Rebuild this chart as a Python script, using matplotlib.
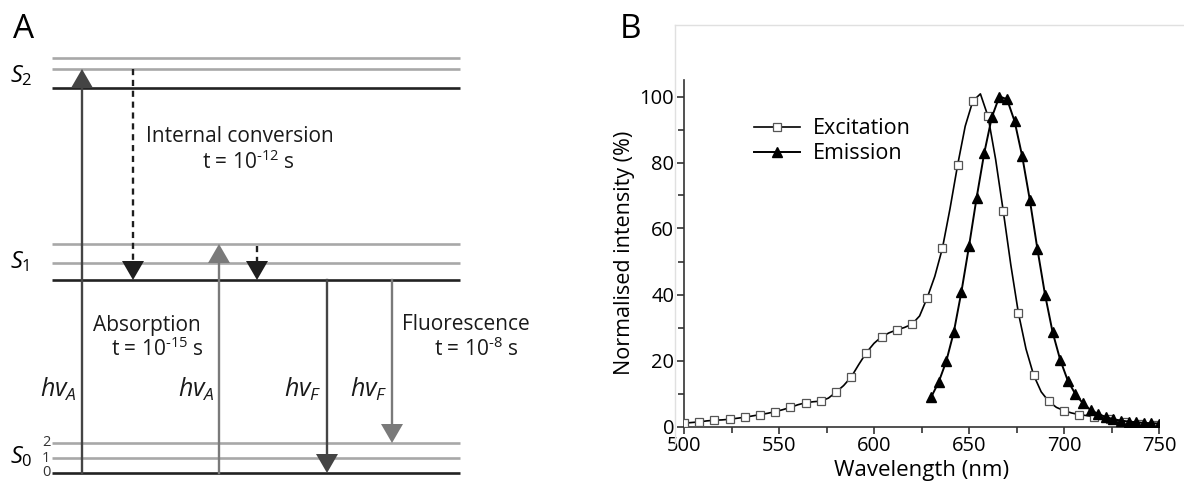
import numpy as np
import matplotlib.pyplot as plt
from matplotlib.patches import Polygon
from matplotlib.lines import Line2D

plt.rcParams['font.family'] = 'Open Sans'
plt.rcParams['mathtext.fontset'] = 'custom'
plt.rcParams['mathtext.rm'] = 'Open Sans'
plt.rcParams['mathtext.it'] = 'Open Sans:italic'

# spectra (B)
exc_wl = np.arange(500, 752, 4)
exc_val = [1.0, 1.2, 1.4, 1.7, 1.9, 2.0, 2.2, 2.5, 2.8, 3.2,
           3.6, 4.0, 4.5, 5.1, 5.8, 6.6, 7.2, 7.5, 7.7, 8.6,
           10.4, 12.4, 15.0, 18.8, 22.4, 25.2, 27.2, 28.4, 29.3, 30.0,
           31.0, 33.5, 39.0, 45.5, 54.0, 66.0, 79.2, 91.0, 98.6, 100.8,
           94.0, 81.0, 65.4, 49.0, 34.4, 23.5, 15.6, 10.5, 7.6, 5.8,
           4.8, 4.1, 3.6, 3.3, 3.0, 2.6, 2.2, 1.8, 1.4, 1.1,
           0.9, 0.7, 0.5]
em_wl = np.arange(630, 754, 4)
em_val = [8.8, 13.4, 19.7, 28.6, 40.8, 54.6, 69.3, 82.8, 93.7, 100.0,
          99.2, 92.5, 81.9, 68.7, 53.8, 40.0, 28.6, 20.2, 13.9, 9.8,
          7.0, 5.0, 3.8, 2.9, 2.2, 1.8, 1.5, 1.3, 1.1, 1.0, 0.9]

# Jablonski diagram (A), drawn in pixel-like units
level_x = (52, 460)
s2_levels = [88, 69, 58]
s1_levels = [280, 263, 244]
s0_levels = [473, 458, 443]
# x, start, end, colour, dashed
transitions = [
    (82, 473, 69, '#444444', False),
    (219, 473, 244, '#7a7a7a', False),
    (327, 280, 473, '#444444', False),
    (392, 280, 443, '#7a7a7a', False),
    (133, 69, 280, '#1e1e1e', True),
    (257, 246, 280, '#1e1e1e', True),
]

fig = plt.figure(figsize=(11.84, 4.93), dpi=100)

axA = fig.add_axes([0, 0, 0.5, 1])
axA.set_xlim(0, 592)
axA.set_ylim(493, 0)
axA.axis('off')

for levels in (s2_levels, s1_levels, s0_levels):
    for i, y in enumerate(levels):
        c = '#222222' if i == 0 else '#a8a8a8'
        axA.plot(level_x, [y, y], color=c, lw=1.9, solid_capstyle='butt', zorder=1)

head_w, head_l = 11, 19
for x, y0, y1, c, dashed in transitions:
    d = 1 if y1 > y0 else -1
    yb = y1 - d * head_l
    axA.plot([x, x], [y0, yb], color=c, lw=1.7,
             ls=(0, (2.6, 2.0)) if dashed else '-', zorder=2)
    axA.add_patch(Polygon([[x - head_w, yb], [x + head_w, yb], [x, y1]],
                          closed=True, color=c, lw=0, zorder=3))

axA.text(13, 38, 'A', fontsize=24, va='baseline')
axA.text(10, 82, '$S_2$', fontsize=17, va='baseline')
axA.text(10, 268, '$S_1$', fontsize=17, va='baseline')
axA.text(10, 463, '$S_0$', fontsize=17, va='baseline')
for lab, y in zip(['0', '1', '2'], s0_levels):
    axA.text(46, y, lab, fontsize=10.5, ha='center', va='center', color='#333333')

hy = '\u2010'
txt = dict(fontsize=15, color='#1a1a1a')
axA.text(240, 137, 'Internal conversion', ha='center', va='center', **txt)
axA.text(248, 162, 't = 10$^{' + hy + '12}$ s', ha='center', va='center', **txt)
axA.text(93, 325, 'Absorption', ha='left', va='center', **txt)
axA.text(204, 349, 't = 10$^{' + hy + '15}$ s', ha='right', va='center', **txt)
axA.text(402, 325, 'Fluorescence', ha='left', va='center', **txt)
axA.text(519, 349, 't = 10$^{' + hy + '8}$ s', ha='right', va='center', **txt)
for x, lab in [(77, '$hv_A$'), (215, '$hv_A$'), (322, '$hv_F$'), (388, '$hv_F$')]:
    axA.text(x, 397, lab, fontsize=18, ha='right', va='baseline', color='#1a1a1a')

# spectra panel
axB = fig.add_axes([684 / 1184, 1 - 426.5 / 493, 475 / 1184, 346.5 / 493])
axB.plot(exc_wl, exc_val, '-', color='black', lw=1.2, marker='s', markevery=2,
         ms=6, mfc='white', mec='#555555', mew=0.9, label='Excitation', zorder=3)
axB.plot(em_wl, em_val, '-', color='black', lw=1.4, marker='^', ms=7,
         mfc='black', mec='black', label='Emission', zorder=4)
axB.set_xlim(500, 750)
axB.set_ylim(0, 105)
axB.set_xticks(np.arange(500, 751, 50))
axB.set_xticks(np.arange(525, 751, 50), minor=True)
axB.set_yticks(np.arange(0, 101, 20))
axB.set_yticks(np.arange(10, 101, 20), minor=True)
for s in ['top', 'right']:
    axB.spines[s].set_visible(False)
for s in ['left', 'bottom']:
    axB.spines[s].set_color('#333333')
    axB.spines[s].set_linewidth(1.2)
axB.tick_params(which='major', length=5, width=1.2, color='#333333', labelsize=14.5, pad=2)
axB.tick_params(which='minor', length=4, width=1.2, color='#333333')
axB.set_xlabel('Wavelength (nm)', fontsize=16, labelpad=3)
axB.set_ylabel('Normalised intensity (%)', fontsize=15.5, labelpad=3)
axB.legend(loc='upper left', bbox_to_anchor=(0.13, 0.915), frameon=False,
           fontsize=15.5, handlelength=2.1, handletextpad=0.6, labelspacing=0.2,
           borderaxespad=0)

fig.text(620 / 1184, 1 - 38 / 493, 'B', fontsize=24, va='baseline')

# faint frame around panel B
fig.add_artist(Line2D([675 / 1184, 675 / 1184], [1 - 25 / 493, 1 - 445 / 493],
                      color='#e0e0e0', lw=1))
fig.add_artist(Line2D([675 / 1184, 1], [1 - 25 / 493, 1 - 25 / 493],
                      color='#e0e0e0', lw=1))

fig.savefig('out.png', dpi=100)
